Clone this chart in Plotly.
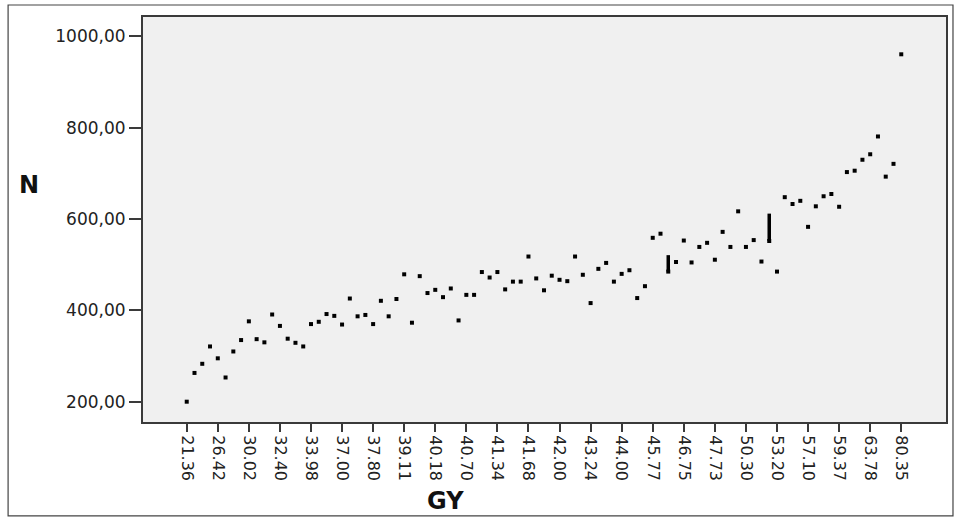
import plotly.graph_objects as go

# GY tick labels (every 4th category is labelled on the axis)
gy_labels = ["21.36", "26.42", "30.02", "32.40", "33.98", "37.00", "37.80", "39.11",
             "40.18", "40.70", "41.34", "41.68", "42.00", "43.24", "44.00", "45.77",
             "46.75", "47.73", "50.30", "53.20", "57.10", "59.37", "63.78", "80.35"]

# N values, one per GY category (93 categories, in order)
n_values = [200, 263, 283, 321, 295, 253, 310, 335, 376, 337,
            330, 391, 366, 338, 329, 321, 370, 375, 392, 388,
            369, 426, 387, 390, 370, 421, 387, 425, 479, 373,
            475, 438, 445, 429, 448, 378, 434, 434, 484, 472,
            484, 446, 463, 463, 518, 470, 444, 476, 467, 464,
            518, 478, 416, 491, 504, 463, 480, 488, 427, 453,
            559, 568, 485, 506, 553, 505, 539, 548, 511, 572,
            539, 617, 539, 554, 507, 552, 485, 648, 633, 640,
            583, 628, 650, 655, 627, 703, 706, 730, 742, 781,
            693, 721, 961]

# categories holding several stacked observations (drawn as a bar low..high)
stack_cats = [62, 75]
stack_low = [485, 552]
stack_high = [521, 612]

y_ticks = [200, 400, 600, 800, 1000]

cat_index = list(range(len(n_values)))
label_index = cat_index[::4]

fig = go.Figure()

fig.add_trace(go.Scatter(
    x=cat_index, y=n_values, mode="markers",
    marker=dict(symbol="square", size=4, color="black", line=dict(width=0)),
    showlegend=False, hoverinfo="x+y"))

bx, by = [], []
for c, lo, hi in zip(stack_cats, stack_low, stack_high):
    bx += [c, c, None]
    by += [lo, hi, None]
fig.add_trace(go.Scatter(
    x=bx, y=by, mode="lines", line=dict(color="black", width=3.5),
    showlegend=False, hoverinfo="skip"))

axis_col = "#3a3a3a"
fig.update_layout(
    width=955, height=519, autosize=False,
    margin=dict(l=143, r=9, t=17, b=97),
    paper_bgcolor="white", plot_bgcolor="#f0f0f0",
    font=dict(family="DejaVu Sans", color="#222"),
    xaxis=dict(
        range=[-5.63, 97.76], showgrid=False, zeroline=False, automargin=False,
        tickmode="array", tickvals=label_index, ticktext=gy_labels,
        tickangle=90, ticks="outside", ticklen=8, tickwidth=2, tickcolor=axis_col,
        tickfont=dict(family="DejaVu Sans", size=16, color="#222"),
        showline=True, linecolor=axis_col, linewidth=2, mirror=True),
    yaxis=dict(
        range=[155.5, 1042.7], showgrid=False, zeroline=False, automargin=False,
        tickmode="array", tickvals=y_ticks,
        ticktext=[f"{v:.2f}".replace(".", ",") for v in y_ticks],
        ticks="outside", ticklen=12, tickwidth=2, tickcolor=axis_col,
        tickfont=dict(family="DejaVu Sans", size=17, color="#222"),
        showline=True, linecolor=axis_col, linewidth=2, mirror=True),
    annotations=[
        dict(text="<b>N</b>", xref="paper", yref="paper", x=-0.142, y=0.585,
             showarrow=False, font=dict(family="DejaVu Sans", size=24, color="#111"),
             xanchor="center", yanchor="middle"),
        dict(text="<b>GY</b>", xref="paper", yref="paper", x=0.377, y=-0.195,
             showarrow=False, font=dict(family="DejaVu Sans", size=24, color="#111"),
             xanchor="center", yanchor="middle"),
    ],
    shapes=[
        dict(type="rect", xref="paper", yref="paper",
             x0=-0.168, x1=1.0087, y0=-0.232, y1=1.0296,
             line=dict(color="#444", width=1.2), fillcolor="rgba(0,0,0,0)", layer="below"),
    ],
)

fig.write_html("out.html", config={"displayModeBar": False},
               post_script="document.body.style.margin='0';document.body.style.overflow='hidden';")
